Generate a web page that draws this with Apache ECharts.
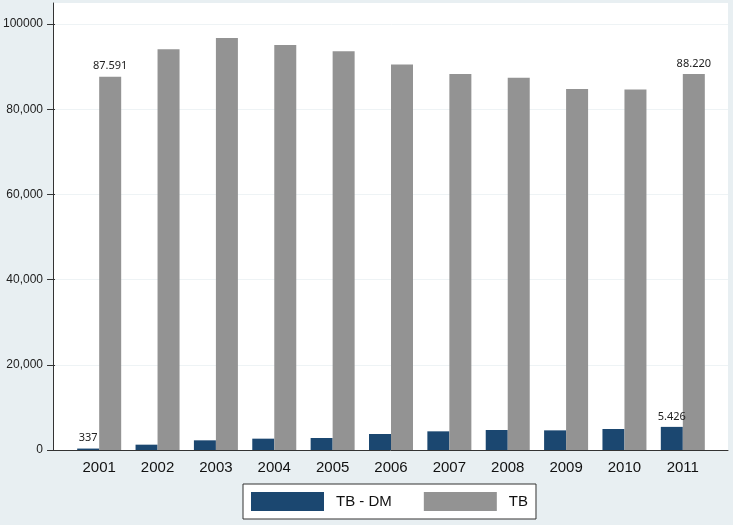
<!DOCTYPE html>
<html>
<head>
<meta charset="utf-8">
<script src="https://cdn.jsdelivr.net/npm/echarts@6/dist/echarts.min.js"></script>
<style>html,body{margin:0;padding:0;background:#e8eff2;}#c{width:733px;height:525px;}</style>
</head>
<body>
<div id="c"></div>
<script>
var years = ['2001','2002','2003','2004','2005','2006','2007','2008','2009','2010','2011'];
var tbDM = [337, 1250, 2270, 2660, 2820, 3760, 4380, 4690, 4610, 4930, 5426];
var tb = [87591, 94020, 96670, 95030, 93550, 90490, 88220, 87360, 84700, 84620, 88220];
var yMin = 0, yMax = 100000, yStep = 20000;
var labeledIdx = [0, 10];

function dotFmt(v){ return String(v).replace(/\B(?=(\d{3})+(?!\d))/g, '.'); }
function commaFmt(v){ return String(v).replace(/\B(?=(\d{3})+(?!\d))/g, ','); }

function withLabels(arr){
  return arr.map(function(v, i){
    return labeledIdx.indexOf(i) >= 0 ? {value: v, label: {show: true}} : v;
  });
}

var chart = echarts.init(document.getElementById('c'));
var PLOT_MAX = 104900;
var dataLabel = {
  show: false, position: 'top', distance: 5,
  fontFamily: 'Noto Sans', fontSize: 11, color: '#222',
  formatter: function(p){ return dotFmt(p.value); }
};
chart.setOption({
  backgroundColor: '#e8eff2',
  animation: false,
  grid: [
    {left: 53, right: 5, top: 3, bottom: 75, show: true, backgroundColor: '#ffffff', borderWidth: 0},
    {left: 70, right: 21, top: 3, bottom: 75},
    {left: 53, right: 5, top: 24, bottom: 75}
  ],
  legend: {
    left: 243, top: 484,
    padding: [8, 8, 8, 8],
    itemWidth: 73, itemHeight: 19, itemGap: 32,
    icon: 'rect',
    backgroundColor: '#ffffff',
    borderColor: '#333', borderWidth: 1,
    textStyle: {fontFamily: 'Liberation Sans', fontSize: 15, color: '#111', padding: [0, 0, 0, 7]},
    data: ['TB - DM', 'TB']
  },
  xAxis: [
    {gridIndex: 0, type: 'value', min: 0, max: 1,
     axisLine: {show: true, lineStyle: {color: '#333', width: 1}},
     axisTick: {show: false}, axisLabel: {show: false}, splitLine: {show: false}},
    {gridIndex: 1, type: 'category', data: years,
     axisLine: {show: false}, axisTick: {show: false},
     axisLabel: {fontFamily: 'Liberation Sans', fontSize: 15, color: '#111', margin: 10}},
    {gridIndex: 2, type: 'value', min: 0, max: 1, show: false}
  ],
  yAxis: [
    {gridIndex: 0, type: 'value', min: 0, max: 1,
     axisLine: {show: true, lineStyle: {color: '#333', width: 1}},
     axisTick: {show: false}, axisLabel: {show: false}, splitLine: {show: false}},
    {gridIndex: 1, type: 'value', min: 0, max: PLOT_MAX, show: false, splitLine: {show: false}},
    {gridIndex: 2, type: 'value', min: yMin, max: yMax, interval: yStep,
     axisLine: {show: false},
     axisTick: {show: true, length: 8, lineStyle: {color: '#333'}},
     axisLabel: {fontFamily: 'Liberation Sans', fontSize: 12, color: '#222', margin: 12,
       formatter: function(v){ return v === 100000 ? String(v) : commaFmt(v); }},
     splitLine: {show: true, lineStyle: {color: '#eef3f5', width: 1}}}
  ],
  series: [
    {name: 'TB - DM', type: 'bar', xAxisIndex: 1, yAxisIndex: 1, barWidth: 22, barGap: '0%',
     itemStyle: {color: '#1b4770'}, label: dataLabel, data: withLabels(tbDM)},
    {name: 'TB', type: 'bar', xAxisIndex: 1, yAxisIndex: 1, barWidth: 22, barGap: '0%',
     itemStyle: {color: '#939393'}, label: dataLabel, data: withLabels(tb)}
  ]
});
</script>
</body>
</html>
